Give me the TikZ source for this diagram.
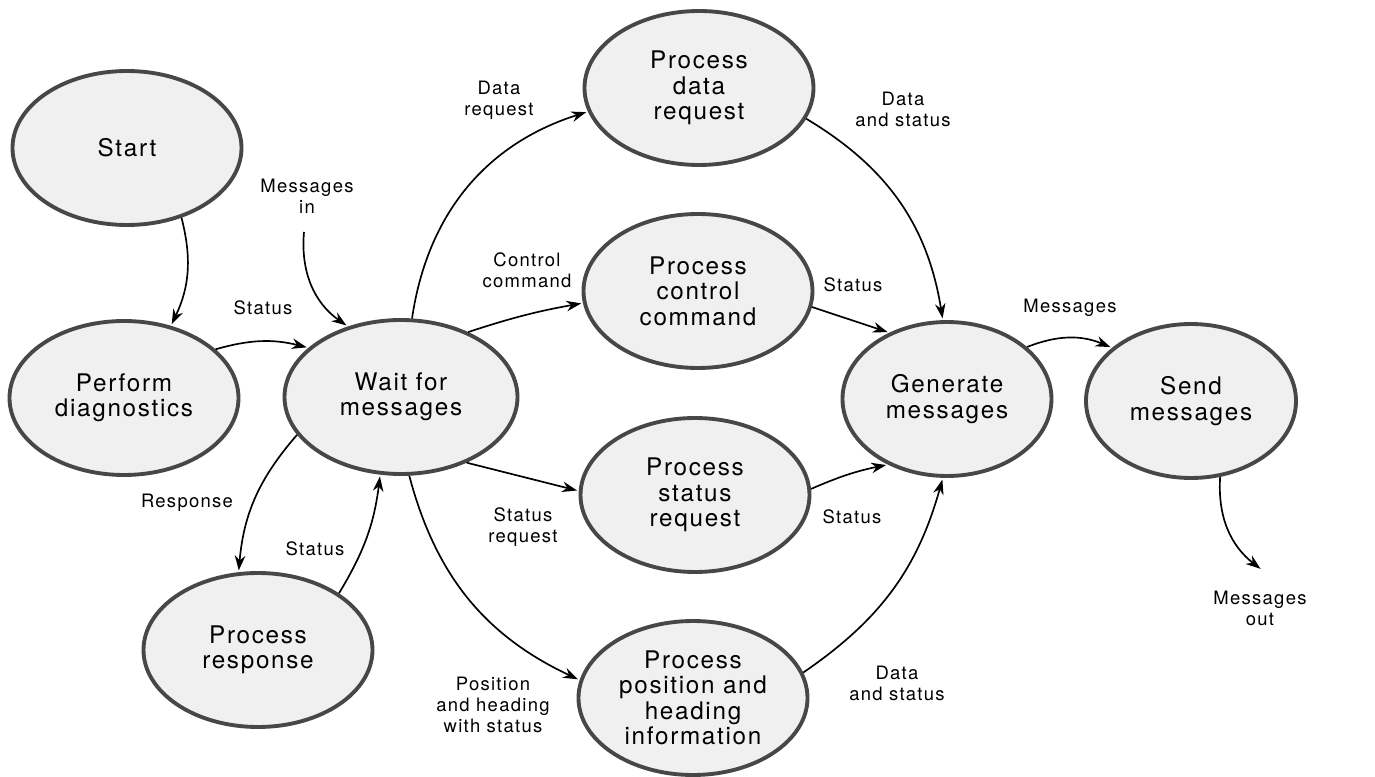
\documentclass[tikz,border=0pt]{standalone}
\usepackage{fontspec}
\setmainfont{TeX Gyre Heros}[LetterSpace=7]
\usetikzlibrary{arrows.meta,shapes.geometric}
\tikzset{process state/.style={ellipse, draw=black!72, line width=2.2pt, fill=black!6,
		minimum width=4.58cm, minimum height=3.08cm, inner sep=0pt, align=center,
		font=\fontsize{13.8}{14.5}\selectfont}}
\tikzset{flow label/.style={align=center, inner sep=0pt, font=\fontsize{10.5}{12}\selectfont}}

\begin{document}
\begin{tikzpicture}[->,>={Stealth[length=8.5pt,width=6pt]},shorten >=1pt,line width=0.95pt]
	\useasboundingbox (0,0) rectangle (27.5,15.52);
	\node[process state] at (2.54,12.56) (start) {Start};
	\node[process state] at (2.48,7.56) (diag) {Perform\\diagnostics};
	\node[process state, minimum width=4.66cm] at (8.02,7.58) (wait) {Wait for\\messages};
	\node[process state] at (5.16,2.52) (resp) {Process\\response};
	\node[process state] at (13.98,13.76) (data) {Process\\data\\request};
	\node[process state] at (13.96,9.7) (ctrl) {Process\\control\\command};
	\node[process state] at (13.9,5.62) (stat) {Process\\status\\request};
	\node[process state] at (13.86,1.56) (pos) {Process\\position and\\heading\\information};
	\node[process state, minimum width=4.18cm] at (18.94,7.54) (gen) {Generate\\messages};
	\node[process state, minimum width=4.2cm] at (23.82,7.5) (send) {Send\\messages};
	\coordinate (msgin) at (6.08,10.88);
	\coordinate (msgout) at (25.24,4.12);
	\node[flow label] at (9.98,13.52) (l_datareq) {Data\\request};
	\node[flow label] at (10.54,10.12) (l_ctrl) {Control\\command};
	\node[flow label] at (5.26,9.36) (l_diagstat) {Status};
	\node[flow label] at (6.14,11.6) (l_msgin) {Messages\\in};
	\node[flow label] at (3.74,5.46) (l_resp) {Response};
	\node[flow label] at (6.3,4.54) (l_respstat) {Status};
	\node[flow label] at (10.46,4.98) (l_statreq) {Status\\request};
	\node[flow label] at (9.86,1.42) (l_pos) {Position\\and heading\\with status};
	\node[flow label] at (18.06,13.34) (l_datastat) {Data\\and status};
	\node[flow label] at (17.06,9.82) (l_ctrlstat) {Status};
	\node[flow label] at (17.04,5.18) (l_statstat) {Status};
	\node[flow label] at (17.94,1.86) (l_posdata) {Data\\and status};
	\node[flow label] at (21.4,9.36) (l_msgs) {Messages};
	\node[flow label] at (25.2,3.36) (l_msgout) {Messages\\out};
	\path (start.-52) edge[bend left=20] (diag.57);
	\path (diag.28) edge[bend left=15] (wait.152);
	\path (msgin) edge[bend right=30] (wait.127);
	\path (wait.82) edge[bend left=32] (data.192);
	\path (wait.44) edge[bend left=4] (ctrl.186);
	\path (wait.-45) edge (stat.178);
	\path (wait.-84) edge[bend right=25] (pos.171);
	\path (wait.-160) edge[bend right=18] (resp.104);
	\path (resp.35) edge[bend right=12] (wait.-105);
	\path (data.-16) edge[bend left=25] (gen.93);
	\path (ctrl.-8) edge (gen.131);
	\path (stat.3) edge[bend left=6] (gen.-132);
	\path (pos.13) edge[bend right=20] (gen.-93);
	\path (gen.33) edge[bend left=22] (send.146);
	\path (send.-69) edge[bend right=28] (msgout);
\end{tikzpicture}
\end{document}
